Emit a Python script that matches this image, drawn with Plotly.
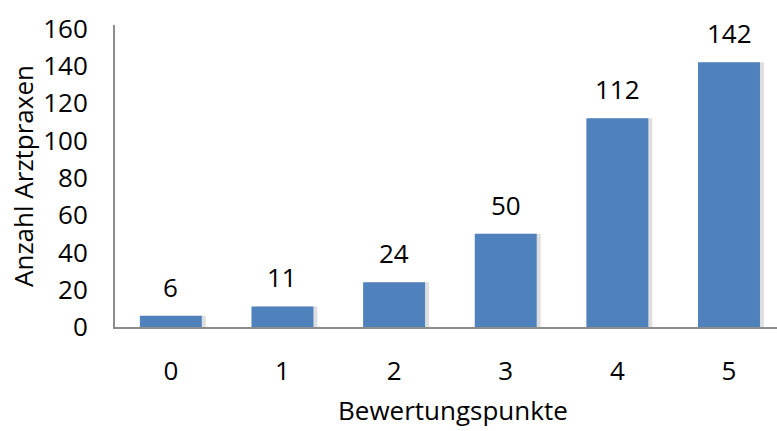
import plotly.graph_objects as go

# Anzahl der Arztpraxen je Bewertungspunktzahl
punkte = ["0", "1", "2", "3", "4", "5"]
anzahl = [6, 11, 24, 50, 112, 142]

FONT = "Open Sans"
FS = 26
BLUE = "#4F81BD"
AXIS = "#8C8C8C"
BAR_W = 0.555

fig = go.Figure()

# weicher Schatten rechts neben jedem Balken
fig.add_trace(go.Bar(
    x=punkte, y=anzahl, width=BAR_W, offset=-BAR_W / 2 + 0.035,
    marker=dict(color="rgba(0,0,0,0.13)", line=dict(width=0)),
    hoverinfo="skip", showlegend=False,
))
fig.add_trace(go.Bar(
    x=punkte, y=anzahl, width=BAR_W, offset=-BAR_W / 2,
    marker=dict(color=BLUE, line=dict(width=0)),
    showlegend=False,
))

# Wertbeschriftungen über den Balken
for p, n in zip(punkte, anzahl):
    fig.add_annotation(
        x=p, y=n, text=str(n), showarrow=False,
        yanchor="middle", yshift=29,
        font=dict(family=FONT, size=FS, color="#000000"),
    )

# Achsentitel der x-Achse, nah am unteren Rand
fig.add_annotation(
    xref="paper", yref="paper", x=0.51, y=0, text="Bewertungspunkte",
    showarrow=False, yanchor="bottom", yshift=-103,
    font=dict(family=FONT, size=FS, color="#000000"),
)

fig.update_layout(
    width=777, height=431,
    margin=dict(l=115, r=0, t=25, b=104),
    paper_bgcolor="white", plot_bgcolor="white",
    barmode="overlay",
    font=dict(family=FONT, size=FS, color="#000000"),
    xaxis=dict(
        type="category", range=[-0.5, 5.43], automargin=False,
        showline=True, linecolor=AXIS, linewidth=2,
        showgrid=False, ticks="", ticklabelstandoff=20,
        tickfont=dict(family=FONT, size=FS),
    ),
    yaxis=dict(
        range=[0, 162], tickvals=[0, 20, 40, 60, 80, 100, 120, 140, 160],
        automargin=False,
        showline=True, linecolor=AXIS, linewidth=2,
        showgrid=False, zeroline=False, ticks="", ticklabelstandoff=20,
        title=dict(text="Anzahl Arztpraxen", standoff=2,
                   font=dict(family=FONT, size=FS)),
        tickfont=dict(family=FONT, size=FS),
    ),
)

fig.write_html("out.html")
